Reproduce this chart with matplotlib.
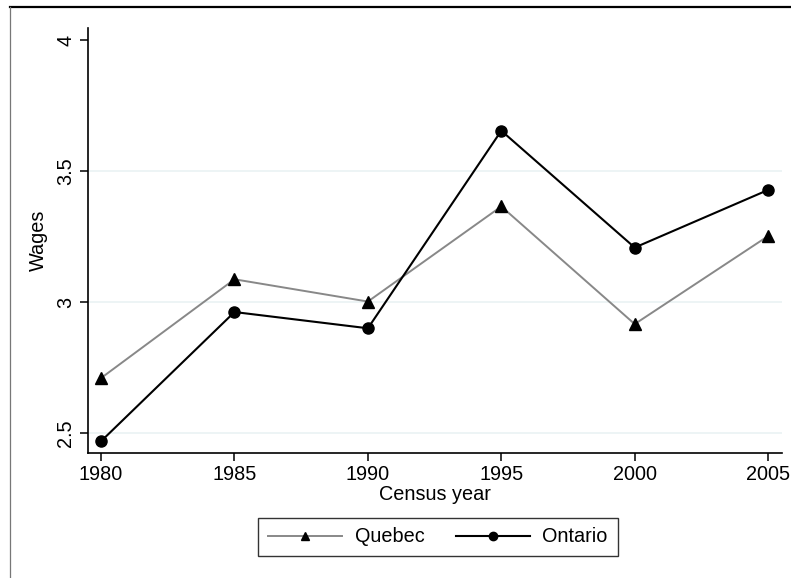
import matplotlib.pyplot as plt
from matplotlib.lines import Line2D

plt.rcParams['font.family'] = ['Liberation Sans', 'DejaVu Sans']

# Average wages by census year
years = [1980, 1985, 1990, 1995, 2000, 2005]
quebec = [2.71, 3.087, 3.002, 3.365, 2.916, 3.252]
ontario = [2.469, 2.962, 2.90, 3.654, 3.208, 3.428]
yticks = [2.5, 3, 3.5, 4]

W, H = 791, 578
fs = 14.3
fig = plt.figure(figsize=(W / 100, H / 100), dpi=100)

# outer frame (top and left edges)
fig.add_artist(Line2D([10 / W, 1], [1 - 7 / H, 1 - 7 / H], color='black', lw=1.6,
                      transform=fig.transFigure))
fig.add_artist(Line2D([10 / W, 10 / W], [0, 1 - 7 / H], color='#777777', lw=0.9,
                      transform=fig.transFigure))

ax = fig.add_axes([88 / W, (H - 453) / H, (782 - 88) / W, (453 - 28) / H])

for y in [2.5, 3, 3.5]:
    ax.axhline(y, color='#eaf2f3', lw=1.2, zorder=0)

ax.plot(years, quebec, color='#888888', lw=1.4, marker='^', markersize=8.5,
        markerfacecolor='black', markeredgecolor='black', label='Quebec')
ax.plot(years, ontario, color='black', lw=1.5, marker='o', markersize=8,
        markerfacecolor='black', markeredgecolor='black', label='Ontario')

ax.set_xlim(1979.51, 2005.52)
ax.set_ylim(2.424, 4.046)
ax.set_xticks(years)
ax.set_yticks(yticks)
ax.set_yticklabels([f'{t:g}' for t in yticks], rotation=90, va='center')

for s in ['top', 'right']:
    ax.spines[s].set_visible(False)
for s in ['left', 'bottom']:
    ax.spines[s].set_linewidth(1.2)

ax.tick_params(direction='out', length=6, width=1.1, labelsize=fs, pad=3)
ax.set_xlabel('Census year', fontsize=fs, labelpad=0)
ax.set_ylabel('Wages', fontsize=fs, labelpad=6)

leg = fig.legend(loc='center', bbox_to_anchor=(438 / W, 1 - 537 / H), ncol=2,
                 fontsize=fs, frameon=True, fancybox=False, edgecolor='black',
                 handlelength=3.7, columnspacing=1.6, handletextpad=0.65,
                 borderpad=0.5, borderaxespad=0, markerscale=0.75)
leg.get_frame().set_linewidth(1.0)

fig.savefig('out.png', dpi=100)
